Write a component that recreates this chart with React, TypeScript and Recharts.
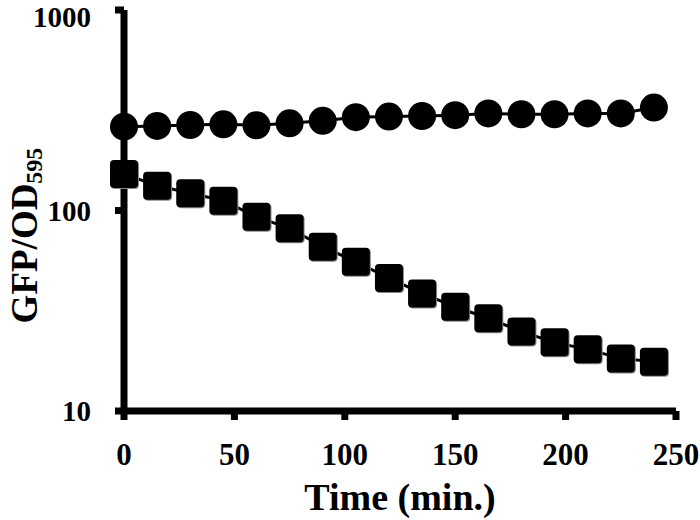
import React from 'react';
import { LineChart, Line, XAxis, YAxis, Label } from 'recharts';

const times = [0, 15, 30, 45, 60, 75, 90, 105, 120, 135, 150, 165, 180, 195, 210, 225, 240];
const circleValues = [262, 264, 267, 269, 266, 272, 280, 292, 294, 296, 299, 305, 302, 302, 305, 305, 326];
const squareValues = [152, 133, 122, 112, 93, 81.5, 66, 55.5, 46, 38.6, 33.1, 29, 24.9, 22, 20.3, 18.3, 17.6];
const xTicks = [0, 50, 100, 150, 200, 250];
const yTicks = [10, 100, 1000];

const data = times.map((t, i) => ({ time: t, circle: circleValues[i], square: squareValues[i] }));

const FONT = "'Liberation Serif', 'Times New Roman', serif";

function CircleDot(props: any) {
  const { cx, cy, index } = props;
  if (cx == null || cy == null) return null;
  return <circle key={`c-${index}`} cx={cx} cy={cy} r={14} fill="#000" />;
}

function SquareDot(props: any) {
  const { cx, cy, index } = props;
  if (cx == null || cy == null) return null;
  return (
    <g key={`s-${index}`}>
      <rect x={cx - 13} y={cy - 13} width={28} height={28} rx={4} fill="#888" />
      <rect x={cx - 14} y={cy - 14} width={28} height={28} rx={4} fill="#000" />
    </g>
  );
}

function YLabel(props: any) {
  const { viewBox } = props;
  const cy = viewBox.y + viewBox.height / 2 + 25;
  return (
    <text
      transform={`translate(37, ${cy}) rotate(-90)`}
      textAnchor="middle"
      fontFamily={FONT}
      fontWeight={700}
      fontSize={37}
      fill="#000"
    >
      GFP/OD
      <tspan fontSize={24} dy={5}>595</tspan>
    </text>
  );
}

function XLabel(props: any) {
  const { viewBox } = props;
  const cx = viewBox.x + viewBox.width / 2;
  return (
    <text
      x={cx}
      y={510}
      textAnchor="middle"
      fontFamily={FONT}
      fontWeight={700}
      fontSize={38}
      fill="#000"
    >
      Time (min.)
    </text>
  );
}

export default function App() {
  const axisStyle = { stroke: '#000', strokeWidth: 7 };
  return (
    <div style={{ position: 'absolute', left: 0, top: 0, background: '#fff', fontFamily: FONT }}>
      <LineChart width={700} height={520} data={data} margin={{ top: 10, right: 24, bottom: 9, left: 14 }}>
        <XAxis
          dataKey="time"
          type="number"
          domain={[0, 250]}
          ticks={xTicks}
          height={100}
          axisLine={axisStyle}
          tickLine={axisStyle}
          tickSize={9}
          tickMargin={23}
          tick={{ fontSize: 31, fontWeight: 700, fill: '#000', fontFamily: FONT }}
        >
          <Label content={<XLabel />} />
        </XAxis>
        <YAxis
          scale="log"
          domain={[10, 1000]}
          ticks={yTicks}
          width={110}
          axisLine={axisStyle}
          tickLine={axisStyle}
          tickSize={9}
          tickMargin={24}
          allowDataOverflow
          tick={{ fontSize: 29, fontWeight: 700, fill: '#000', fontFamily: FONT }}
        >
          <Label content={<YLabel />} />
        </YAxis>
        <Line
          type="linear"
          dataKey="square"
          stroke="#000"
          strokeWidth={3}
          dot={<SquareDot />}
          activeDot={false}
          isAnimationActive={false}
        />
        <Line
          type="linear"
          dataKey="circle"
          stroke="#000"
          strokeWidth={3}
          dot={<CircleDot />}
          activeDot={false}
          isAnimationActive={false}
        />
      </LineChart>
    </div>
  );
}
